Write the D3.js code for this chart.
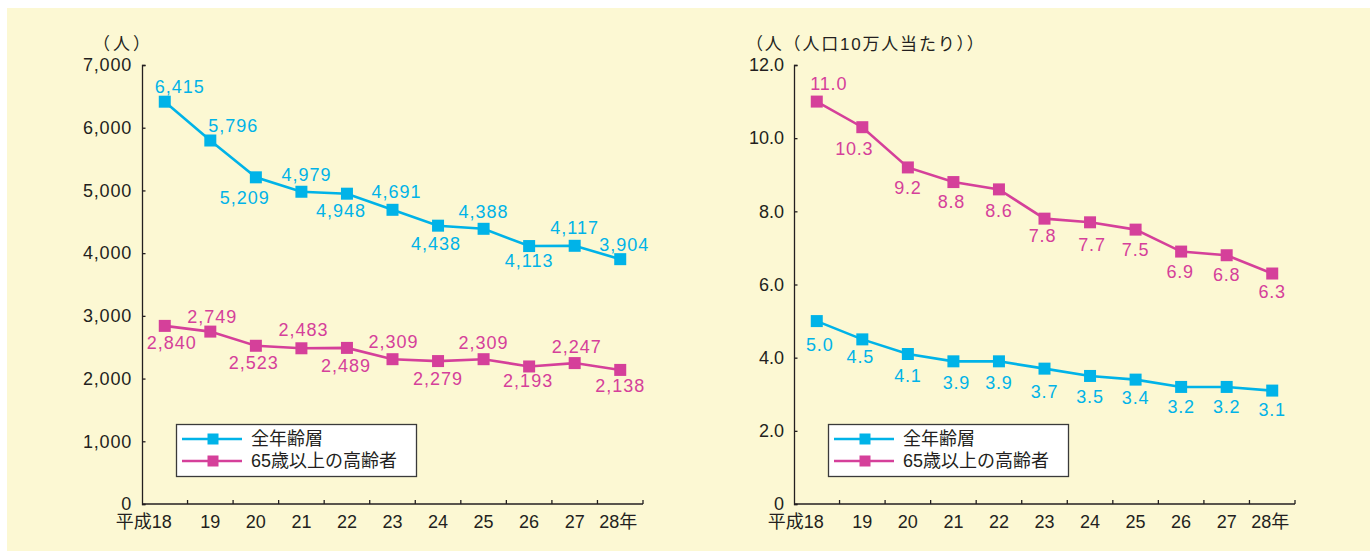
<!DOCTYPE html>
<html lang="ja">
<head>
<meta charset="utf-8">
<script src="https://cdn.jsdelivr.net/npm/d3@7/dist/d3.min.js"></script>
<style>
  html, body { margin: 0; padding: 0; background: #ffffff; }
  svg { display: block; }
  text { font-family: "Liberation Sans", Arial, "Noto Sans CJK JP", sans-serif; }
</style>
</head>
<body>
<svg id="chart" width="1370" height="551"></svg>
<script>
// ---- data ----
const categories = ['平成18', '19', '20', '21', '22', '23', '24', '25', '26', '27', '28年'];
const seriesNames = ['全年齢層', '65歳以上の高齢者'];

// number of people
const totalCount   = [6415, 5796, 5209, 4979, 4948, 4691, 4438, 4388, 4113, 4117, 3904];
const elderlyCount = [2840, 2749, 2523, 2483, 2489, 2309, 2279, 2309, 2193, 2247, 2138];

// per 100,000 population
const totalRate   = [5.0, 4.5, 4.1, 3.9, 3.9, 3.7, 3.5, 3.4, 3.2, 3.2, 3.1];
const elderlyRate = [11.0, 10.3, 9.2, 8.8, 8.6, 7.8, 7.7, 7.5, 6.9, 6.8, 6.3];

const countTicks = [0, 1000, 2000, 3000, 4000, 5000, 6000, 7000];
const rateTicks  = [0, 2, 4, 6, 8, 10, 12];

const countTitle = '（人）';
const rateTitle  = '（人（人口10万人当たり））';

// ---- value-label placement (offset from marker, px) ----
const totalCountLabelOffset = [[15,-15],[23,-15],[-11,21],[5,-17],[-6,17],[4,-18],[-2,18],[0,-17],[0,15],[0,-18],[4,-14]];
const elderlyCountLabelOffset = [[7,17],[2,-15],[-2,17],[2,-18],[-1,18],[1,-17],[0,18],[0,-16],[-1,15],[2,-16],[0,16]];
const totalRateLabelOffset = [[3,24],[-2,18],[0,22],[3,22],[0,22],[0,23],[0,21],[0,18],[0,20],[0,20],[0,19]];
const elderlyRateLabelOffset = [[12,-18],[-8,22],[0,21],[-2,20],[0,22],[-2,17],[2,23],[0,20],[-1,20],[0,20],[0,18]];

// ---- styles ----
const CYAN = '#00b3e8';
const MAGENTA = '#d5409a';
const INK = '#231f20';
const BG = '#fcf8d3';

const svg = d3.select('#chart');

// panel background
svg.append('rect')
  .attr('x', 7).attr('y', 8)
  .attr('width', 1363).attr('height', 543)
  .attr('fill', BG);

function drawPanel(cfg) {
  const g = svg.append('g');
  const x = d3.scaleBand().domain(categories).range([cfg.x0, cfg.x1]);
  const y = d3.scaleLinear().domain(cfg.yDomain).range([504, 65]);
  const cx = c => x(c) + x.bandwidth() / 2;

  // y axis (ticks pointing into the plot)
  const yAxis = d3.axisLeft(y)
    .tickValues(cfg.yTicks)
    .tickSize(-3.5)
    .tickPadding(10)
    .tickFormat(cfg.tickFormat);
  const ya = g.append('g').attr('transform', `translate(${cfg.x0},0)`).call(yAxis);
  ya.select('.domain').attr('stroke', INK).attr('stroke-width', 1.3);
  ya.selectAll('.tick line').attr('stroke', INK).attr('stroke-width', 1.3);
  ya.selectAll('.tick text')
    .attr('fill', INK)
    .style('font-size', '18px')
    .style('letter-spacing', cfg.tickSpacing);

  // x axis: line with boundary ticks pointing up
  g.append('line')
    .attr('x1', cfg.x0).attr('x2', cfg.x1)
    .attr('y1', 504).attr('y2', 504)
    .attr('stroke', INK).attr('stroke-width', 1.3);
  g.selectAll('.xtick')
    .data(categories.slice(1).map(c => x(c)).concat([cfg.x1]))
    .join('line')
    .attr('class', 'xtick')
    .attr('x1', d => d).attr('x2', d => d)
    .attr('y1', 504).attr('y2', 500)
    .attr('stroke', INK).attr('stroke-width', 1.3);
  g.selectAll('.xlabel')
    .data(categories)
    .join('text')
    .attr('class', 'xlabel')
    .attr('x', (d, i) => i === 0 ? cx(d) + 7 : (i === categories.length - 1 ? cx(d) - 21 : cx(d)))
    .attr('y', 528)
    .attr('text-anchor', (d, i) => i === 0 ? 'end' : (i === categories.length - 1 ? 'start' : 'middle'))
    .attr('fill', INK)
    .style('font-size', '18px')
    .text(d => d);

  // axis title
  g.append('text')
    .attr('x', cfg.titleX).attr('y', 50)
    .attr('fill', INK)
    .style('font-size', '17px')
    .style('letter-spacing', cfg.titleSpacing)
    .text(cfg.title);

  const line = d3.line().x((d, i) => cx(categories[i])).y(d => y(d));

  cfg.series.forEach(s => {
    g.append('path')
      .datum(s.values)
      .attr('d', line)
      .attr('fill', 'none')
      .attr('stroke', s.color)
      .attr('stroke-width', 2.6);
    g.selectAll(null)
      .data(s.values)
      .join('rect')
      .attr('x', (d, i) => cx(categories[i]) - 6)
      .attr('y', d => y(d) - 6)
      .attr('width', 12).attr('height', 12)
      .attr('fill', s.color);
    g.selectAll(null)
      .data(s.values)
      .join('text')
      .attr('x', (d, i) => cx(categories[i]) + s.offsets[i][0])
      .attr('y', (d, i) => y(d) + s.offsets[i][1])
      .attr('text-anchor', 'middle')
      .attr('dominant-baseline', 'central')
      .attr('fill', s.color)
      .style('font-size', '18px')
      .style('letter-spacing', cfg.labelSpacing)
      .text(d => s.format(d));
  });

  // legend
  const lx = cfg.x0 + 34;
  const lg = g.append('g').attr('transform', `translate(${lx},424)`);
  lg.append('rect')
    .attr('x', 0.5).attr('y', 0.5)
    .attr('width', 240).attr('height', 52)
    .attr('fill', '#ffffff')
    .attr('stroke', '#3a3a3a').attr('stroke-width', 1.3);
  cfg.series.forEach((s, i) => {
    const ly = 15 + i * 22;
    lg.append('line')
      .attr('x1', 6).attr('x2', 66)
      .attr('y1', ly).attr('y2', ly)
      .attr('stroke', s.color).attr('stroke-width', 2.6);
    lg.append('rect')
      .attr('x', 37 - 5.5).attr('y', ly - 5.5)
      .attr('width', 11).attr('height', 11)
      .attr('fill', s.color);
    lg.append('text')
      .attr('x', 75).attr('y', ly)
      .attr('dominant-baseline', 'central')
      .attr('fill', INK)
      .style('font-size', '18px')
      .text(s.name);
  });
}

const fmtCount = d3.format(',');
const fmtRate = d3.format('.1f');

drawPanel({
  x0: 142, x1: 643,
  yDomain: [0, 7000],
  yTicks: countTicks,
  tickFormat: d => d === 0 ? '0' : fmtCount(d),
  tickSpacing: '0.8px',
  labelSpacing: '1px',
  title: countTitle, titleX: 93, titleSpacing: '3px',
  series: [
    { name: seriesNames[0], values: totalCount, color: CYAN, format: fmtCount, offsets: totalCountLabelOffset },
    { name: seriesNames[1], values: elderlyCount, color: MAGENTA, format: fmtCount, offsets: elderlyCountLabelOffset }
  ]
});

drawPanel({
  x0: 794, x1: 1295,
  yDomain: [0, 12],
  yTicks: rateTicks,
  tickFormat: d => d === 0 ? '0' : fmtRate(d),
  tickSpacing: '0px',
  labelSpacing: '0.8px',
  title: rateTitle, titleX: 746, titleSpacing: '1.8px',
  series: [
    { name: seriesNames[0], values: totalRate, color: CYAN, format: fmtRate, offsets: totalRateLabelOffset },
    { name: seriesNames[1], values: elderlyRate, color: MAGENTA, format: fmtRate, offsets: elderlyRateLabelOffset }
  ]
});
</script>
</body>
</html>
